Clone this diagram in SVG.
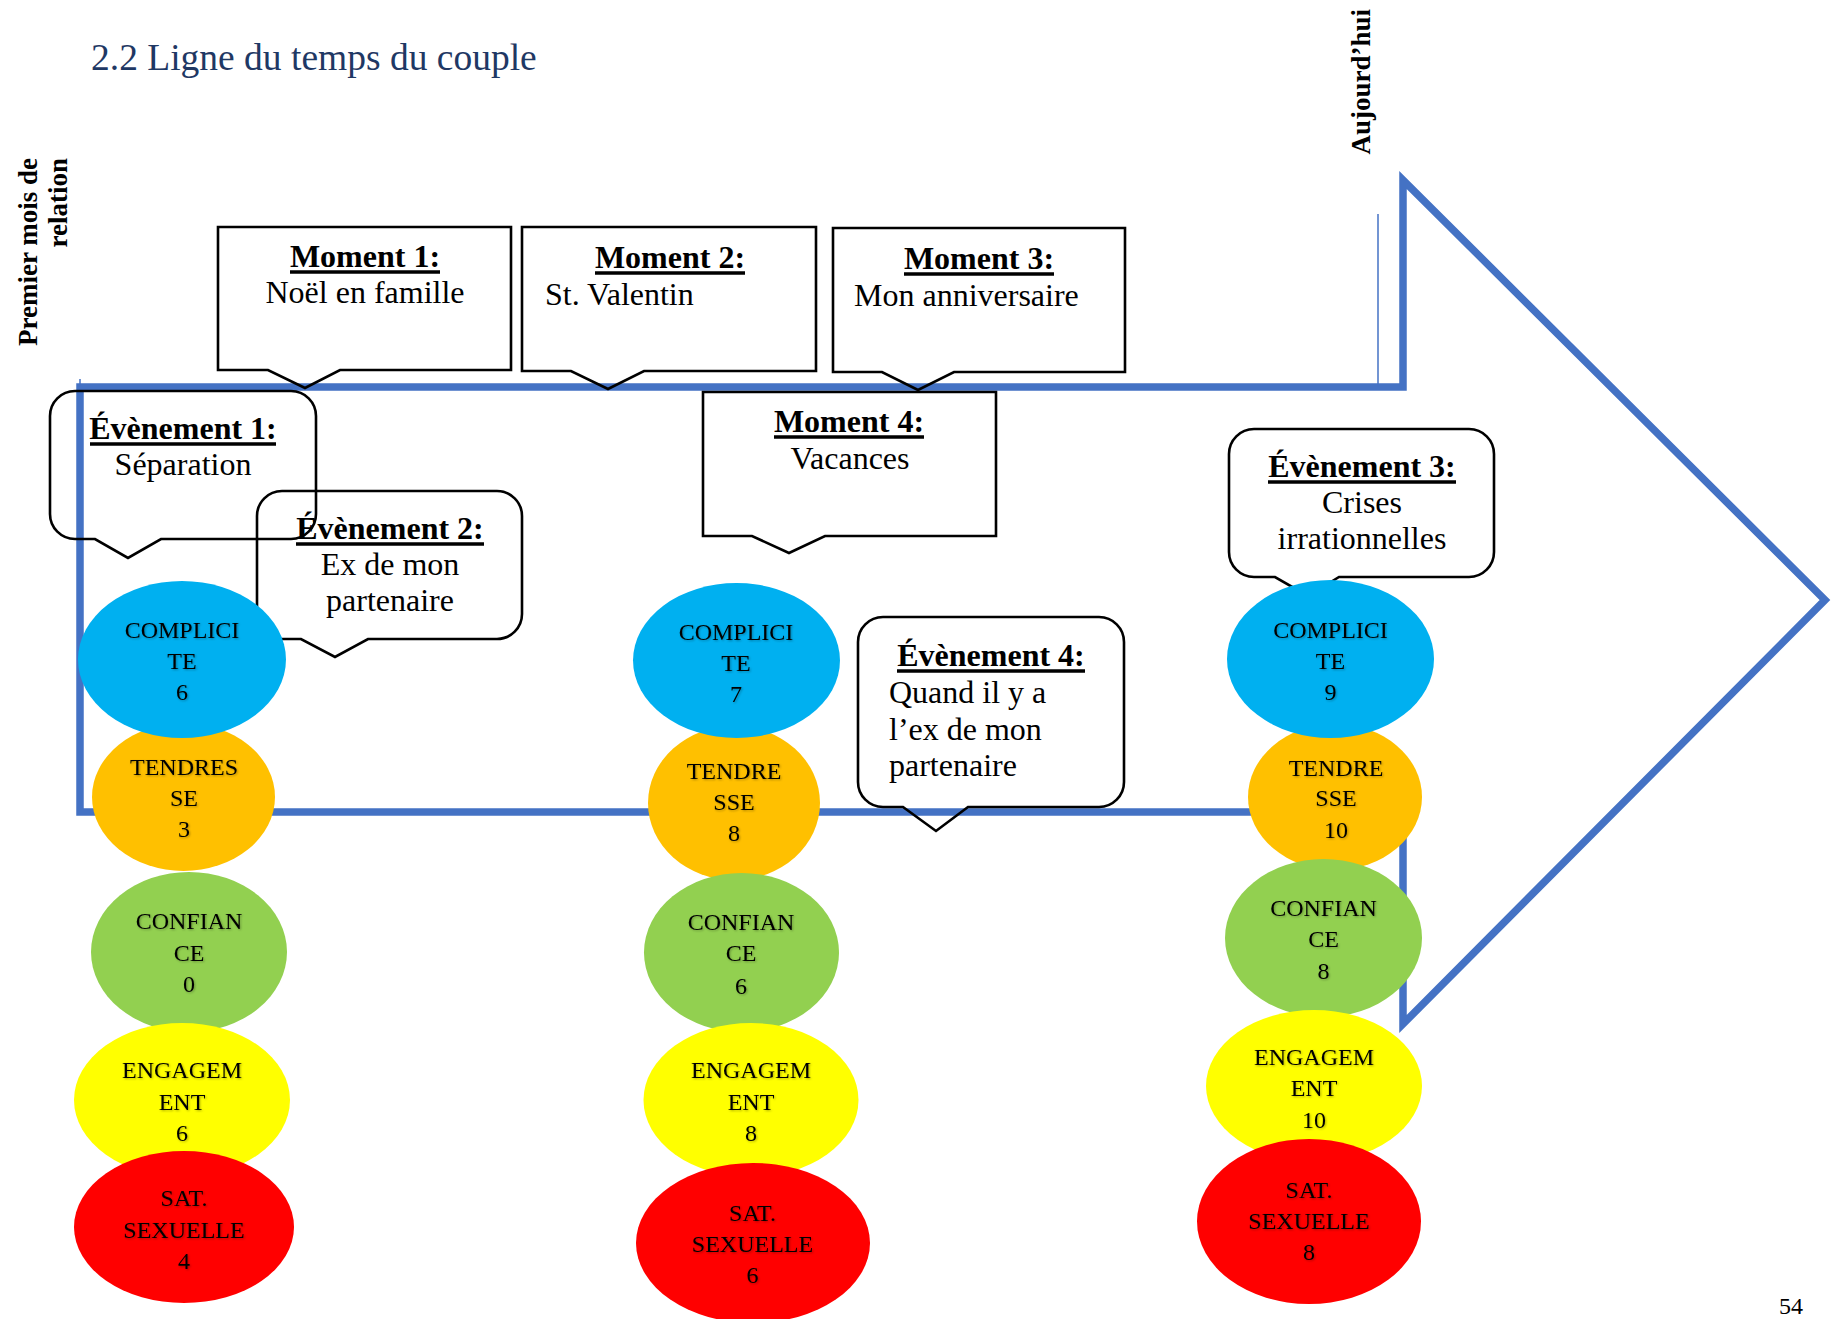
<svg xmlns="http://www.w3.org/2000/svg" width="1838" height="1319" viewBox="0 0 1838 1319">
<defs>
<style>
text{font-family:"Liberation Serif","Times New Roman",serif;fill:#000}
.title{font-size:37.5px;fill:#1F3864}
.side{font-size:27px;font-weight:bold;text-anchor:end}
.box{fill:none;stroke:#000;stroke-width:2.6;stroke-linejoin:miter}
.hd{font-size:32px;font-weight:bold;text-anchor:middle}
.bd{font-size:32px}
.mid{text-anchor:middle}
.ul{stroke:#000;stroke-width:3.5}
.arrow{fill:none;stroke:#4472C4;stroke-width:7.5;stroke-linejoin:miter;stroke-miterlimit:10}
.thin{stroke:#4472C4;stroke-width:1.5}
.el text{font-size:24px;text-anchor:middle;filter:url(#sh)}
.c{fill:#00B0F0}.o{fill:#FFC000}.g{fill:#92D050}.y{fill:#FFFF00}.r{fill:#FF0000}
</style>
<filter id="sh" x="-20%" y="-40%" width="140%" height="180%">
<feDropShadow dx="1" dy="1" stdDeviation="0.9" flood-color="#000" flood-opacity="0.3"/>
</filter>
</defs>
<rect width="1838" height="1319" fill="#fff"/>

<text class="title" x="91" y="70">2.2 Ligne du temps du couple</text>
<text class="side" transform="translate(37,158) rotate(-90)">Premier mois de</text>
<text class="side" transform="translate(67,158) rotate(-90)">relation</text>
<text class="side" transform="translate(1370,9) rotate(-90)">Aujourd’hui</text>

<g id="connectors">
<g id="timeline">
<path class="arrow" d="M80,387 H1403 V180 L1825,600 L1403,1024 V812 H80 Z"/>
<line class="thin" x1="1378" y1="214" x2="1378" y2="387"/>
<line class="thin" x1="80" y1="379" x2="80" y2="387"/>
</g>
</g>

<g id="moment1">
<path class="box" d="M218,227 H511 V370 H340 L305,388 L268,370 H218 Z"/>
<text class="hd" x="365" y="267">Moment 1:</text>
<line class="ul" x1="290" y1="272" x2="440" y2="272"/>
<text class="bd mid" x="365" y="303">Noël en famille</text>
</g>
<g id="moment2">
<path class="box" d="M522,227 H816 V371 H644 L608,389 L571,371 H522 Z"/>
<text class="hd" x="670" y="268">Moment 2:</text>
<line class="ul" x1="595" y1="273" x2="745" y2="273"/>
<text class="bd" x="545" y="305">St. Valentin</text>
</g>
<g id="moment3">
<path class="box" d="M833,228 H1125 V372 H954 L918,390 L882,372 H833 Z"/>
<text class="hd" x="979" y="269">Moment 3:</text>
<line class="ul" x1="904" y1="274" x2="1054" y2="274"/>
<text class="bd" x="854" y="306">Mon anniversaire</text>
</g>
<g id="moment4">
<path class="box" d="M703,392 H996 V536 H825 L789,553 L752,536 H703 Z"/>
<text class="hd" x="849" y="432">Moment 4:</text>
<line class="ul" x1="774" y1="437" x2="924" y2="437"/>
<text class="bd mid" x="850" y="469">Vacances</text>
</g>

<g id="evenement1">
<path class="box" d="M75,391 H291 A25,25 0 0 1 316,416 V514 A25,25 0 0 1 291,539 H161 L128,558 L95,539 H75 A25,25 0 0 1 50,514 V416 A25,25 0 0 1 75,391 Z"/>
<text class="hd" x="183" y="439">Évènement 1:</text>
<line class="ul" x1="90" y1="444" x2="276" y2="444"/>
<text class="bd mid" x="183" y="475">Séparation</text>
</g>
<g id="evenement2">
<path class="box" d="M282,491 H497 A25,25 0 0 1 522,516 V614 A25,25 0 0 1 497,639 H368 L335,657 L301,639 H282 A25,25 0 0 1 257,614 V516 A25,25 0 0 1 282,491 Z"/>
<text class="hd" x="390" y="539">Évènement 2:</text>
<line class="ul" x1="296" y1="544" x2="484" y2="544"/>
<text class="bd mid" x="390" y="575">Ex de mon</text>
<text class="bd mid" x="390" y="611">partenaire</text>
</g>
<g id="evenement3">
<path class="box" d="M1254,429 H1469 A25,25 0 0 1 1494,454 V552 A25,25 0 0 1 1469,577 H1339 L1308,596 L1275,577 H1254 A25,25 0 0 1 1229,552 V454 A25,25 0 0 1 1254,429 Z"/>
<text class="hd" x="1362" y="477">Évènement 3:</text>
<line class="ul" x1="1268" y1="482" x2="1456" y2="482"/>
<text class="bd mid" x="1362" y="513">Crises</text>
<text class="bd mid" x="1362" y="549">irrationnelles</text>
</g>
<g id="evenement4">
<path class="box" d="M883,617 H1099 A25,25 0 0 1 1124,642 V782 A25,25 0 0 1 1099,807 H968 L936,831 L903,807 H883 A25,25 0 0 1 858,782 V642 A25,25 0 0 1 883,617 Z"/>
<text class="hd" x="991" y="666">Évènement 4:</text>
<line class="ul" x1="897" y1="671" x2="1085" y2="671"/>
<text class="bd" x="889" y="703">Quand il y a</text>
<text class="bd" x="889" y="740">l’ex de mon</text>
<text class="bd" x="889" y="776">partenaire</text>
</g>

<!-- Column 1 -->
<g id="tendresse1" class="el">
<ellipse class="o" cx="183.5" cy="797" rx="91.5" ry="74"/>
<text x="184" y="775">TENDRES</text><text x="184" y="806">SE</text><text x="184" y="837">3</text>
</g>
<g id="complicite1" class="el">
<ellipse class="c" cx="182" cy="659.5" rx="104" ry="78.5"/>
<text x="182" y="638">COMPLICI</text><text x="182" y="669">TE</text><text x="182" y="700">6</text>
</g>
<g id="confiance1" class="el">
<ellipse class="g" cx="189" cy="952" rx="98" ry="80"/>
<text x="189" y="929">CONFIAN</text><text x="189" y="961">CE</text><text x="189" y="992">0</text>
</g>
<g id="engagement1" class="el">
<ellipse class="y" cx="182" cy="1100" rx="108" ry="77"/>
<text x="182" y="1078">ENGAGEM</text><text x="182" y="1110">ENT</text><text x="182" y="1141">6</text>
</g>
<g id="satsex1" class="el">
<ellipse class="r" cx="184" cy="1227" rx="110" ry="76"/>
<text x="184" y="1206">SAT.</text><text x="184" y="1238">SEXUELLE</text><text x="184" y="1269">4</text>
</g>

<!-- Column 2 -->
<g id="tendresse2" class="el">
<ellipse class="o" cx="734" cy="803" rx="86" ry="77"/>
<text x="734" y="779">TENDRE</text><text x="734" y="810">SSE</text><text x="734" y="841">8</text>
</g>
<g id="complicite2" class="el">
<ellipse class="c" cx="736.5" cy="660.5" rx="103.5" ry="77.5"/>
<text x="736" y="640">COMPLICI</text><text x="736" y="671">TE</text><text x="736" y="702">7</text>
</g>
<g id="confiance2" class="el">
<ellipse class="g" cx="741.5" cy="952.5" rx="97.5" ry="79.5"/>
<text x="741" y="930">CONFIAN</text><text x="741" y="961">CE</text><text x="741" y="994">6</text>
</g>
<g id="engagement2" class="el">
<ellipse class="y" cx="751" cy="1100" rx="107.5" ry="77"/>
<text x="751" y="1078">ENGAGEM</text><text x="751" y="1110">ENT</text><text x="751" y="1141">8</text>
</g>
<g id="satsex2" class="el">
<ellipse class="r" cx="753" cy="1243" rx="117" ry="80"/>
<text x="752.5" y="1221">SAT.</text><text x="752.5" y="1252">SEXUELLE</text><text x="752.5" y="1283">6</text>
</g>

<!-- Column 3 -->
<g id="tendresse3" class="el">
<ellipse class="o" cx="1335" cy="797" rx="87" ry="73"/>
<text x="1336" y="776">TENDRE</text><text x="1336" y="806">SSE</text><text x="1336" y="838">10</text>
</g>
<g id="complicite3" class="el">
<ellipse class="c" cx="1330.5" cy="659" rx="103.5" ry="79"/>
<text x="1330.5" y="638">COMPLICI</text><text x="1330.5" y="669">TE</text><text x="1330.5" y="700">9</text>
</g>
<g id="confiance3" class="el">
<ellipse class="g" cx="1323.5" cy="938" rx="98.5" ry="79"/>
<text x="1323.5" y="916">CONFIAN</text><text x="1323.5" y="947">CE</text><text x="1323.5" y="979">8</text>
</g>
<g id="engagement3" class="el">
<ellipse class="y" cx="1314" cy="1086" rx="108" ry="76"/>
<text x="1314" y="1065">ENGAGEM</text><text x="1314" y="1096">ENT</text><text x="1314" y="1128">10</text>
</g>
<g id="satsex3" class="el">
<ellipse class="r" cx="1309" cy="1221.5" rx="112" ry="82.5"/>
<text x="1309" y="1198">SAT.</text><text x="1309" y="1229">SEXUELLE</text><text x="1309" y="1260">8</text>
</g>

<text x="1779" y="1314" style="font-size:24px">54</text>
</svg>
